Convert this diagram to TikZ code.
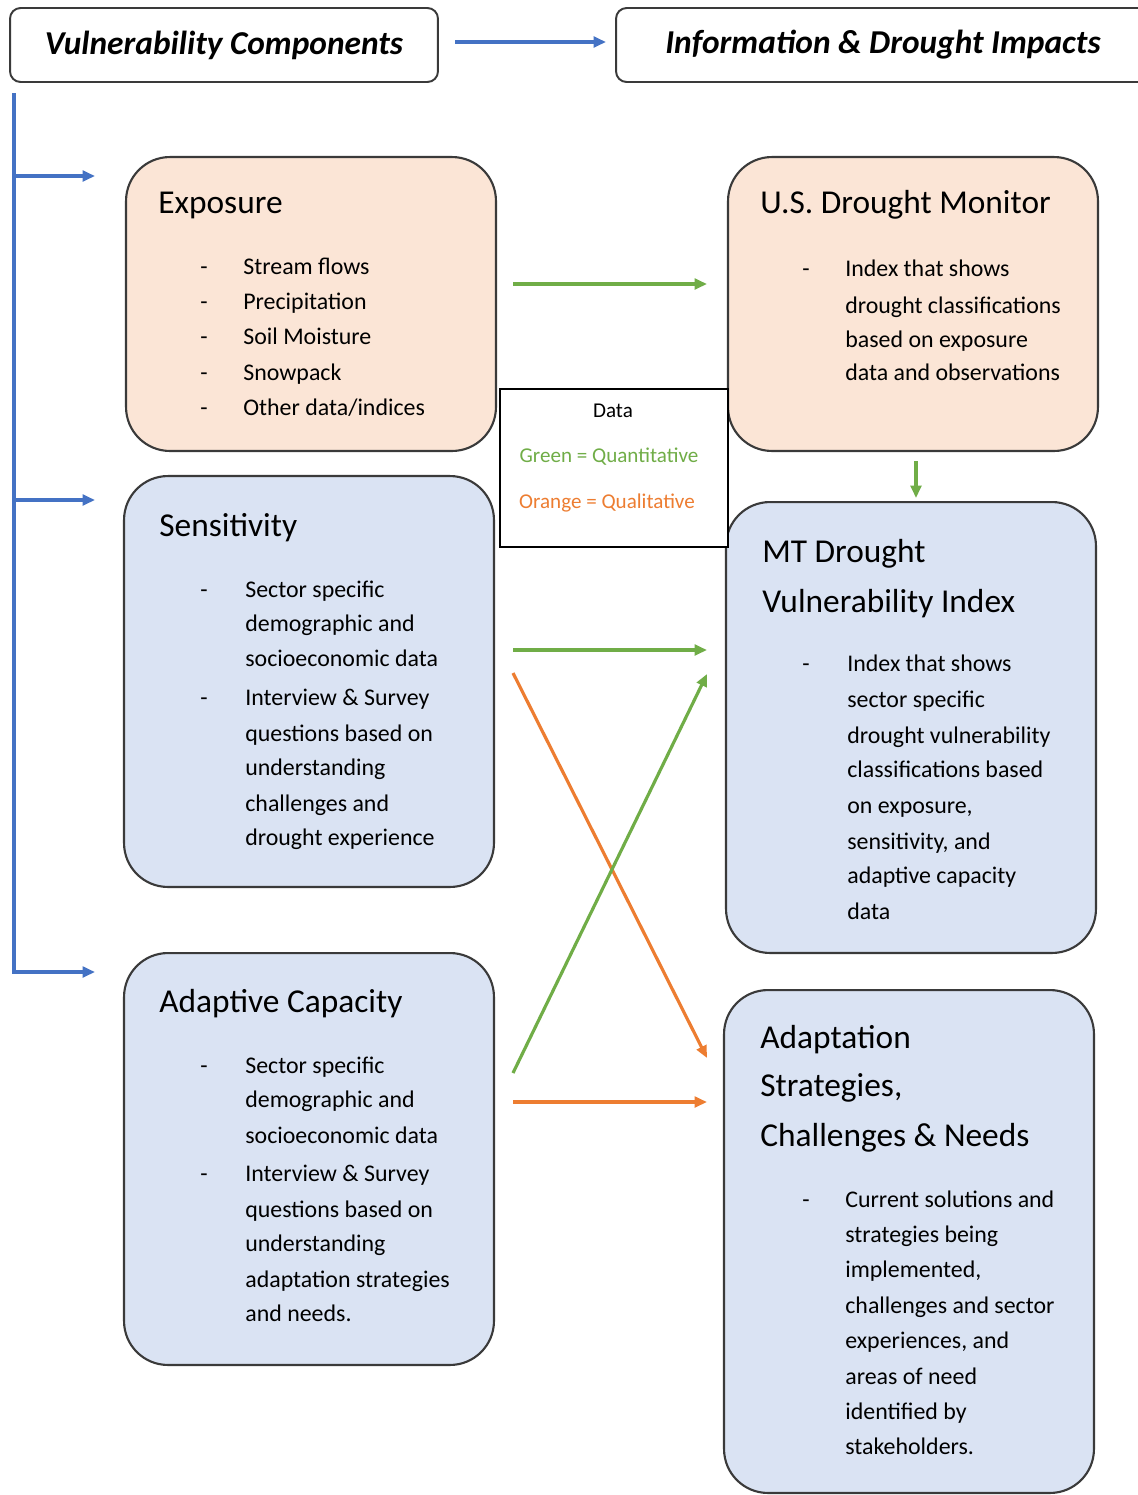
\documentclass[tikz,border=0pt]{standalone}
\usepackage{fontspec}
\setmainfont{Carlito}
\usetikzlibrary{arrows.meta}
\definecolor{peach}{HTML}{FBE5D6}
\definecolor{paleblue}{HTML}{DAE3F3}
\definecolor{linkblue}{HTML}{4472C4}
\definecolor{qgreen}{HTML}{70AD47}
\definecolor{qorange}{HTML}{ED7D31}
\definecolor{edgegray}{HTML}{3A3A3A}
\begin{document}
\begin{tikzpicture}[x=0.02cm, y=-0.02cm,
  headbox/.style={draw=edgegray, line width=1.1pt, rounded corners=6pt, minimum height=1.48cm, outer sep=0pt,
    font=\fontsize{19}{21}\selectfont\bfseries\itshape},
  card/.style={draw=edgegray, line width=1.2pt, rounded corners=25pt, minimum width=7.4cm, outer sep=0pt},
  title/.style={anchor=base west, inner sep=0pt, font=\fontsize{19}{21}\selectfont},
  body/.style={anchor=base west, inner sep=0pt, font=\fontsize{13.6}{16}\selectfont},
  legtext/.style={font=\fontsize{12}{14}\selectfont},
  bluelink/.style={draw=linkblue, line width=1.8pt, -{Triangle[length=7pt, width=6pt]}},
  quant/.style={draw=qgreen, line width=1.8pt, -{Triangle[length=7pt, width=6pt]}},
  qual/.style={draw=qorange, line width=1.8pt, -{Triangle[length=7pt, width=6pt]}}]
  \clip (0,0) rectangle (1138,1495);
  \fill[white] (0,0) rectangle (1138,1495);
  % headers
  \node[headbox, minimum width=8.56cm] (vulhead) at (224,45) {Vulnerability Components};
  \node[headbox, minimum width=10.68cm] (infohead) at (883,45) {Information \& Drought Impacts};
  \coordinate (hA) at (455,42); \coordinate (hB) at (606,42);
  \draw[bluelink] (hA) -- (hB);
  % left column
  \node[card, fill=peach, minimum height=5.88cm] (expo) at (311,304) {};
  \node[card, fill=paleblue, minimum height=8.22cm] (sens) at (309,681.5) {};
  \node[card, fill=paleblue, minimum height=8.24cm] (adcap) at (309,1159) {};
  % right column
  \node[card, fill=peach, minimum height=5.88cm] (usdm) at (913,304) {};
  \node[card, fill=paleblue, minimum height=9.02cm] (mtdvi) at (911,727.5) {};
  \node[card, fill=paleblue, minimum height=10.06cm] (adstrat) at (909,1241.5) {};
  % exposure
  \node[title] (expoT) at (158,213) {Exposure};
  \foreach \y/\t in {274/{Stream flows}, 309/{Precipitation}, 344/{Soil Moisture}, 380/{Snowpack}, 415/{Other data/indices}}{
    \node[body] at (200,\y) {-};
    \node[body] at (243,\y) {\t};
  }
  % sensitivity
  \node[title] (sensT) at (159,536) {Sensitivity};
  \node[body] at (200,597) {-};
  \node[body] at (200,705) {-};
  \foreach \y/\t in {597/Sector specific, 631/demographic and, 666/socioeconomic data, 705/Interview \& Survey,
    741/questions based on, 775/understanding, 811/challenges and, 845/drought experience}
    \node[body] at (245,\y) {\t};
  % adaptive capacity
  \node[title] (adcapT) at (159,1012) {Adaptive Capacity};
  \node[body] at (200,1073) {-};
  \node[body] at (200,1181) {-};
  \foreach \y/\t in {1073/Sector specific, 1107/demographic and, 1143/socioeconomic data, 1181/Interview \& Survey,
    1217/questions based on, 1251/understanding, 1287/adaptation strategies, 1321/and needs.}
    \node[body] at (245,\y) {\t};
  % drought monitor
  \node[title] (usdmT) at (760,213) {U.S. Drought Monitor};
  \node[body] at (802,276) {-};
  \foreach \y/\t in {276/Index that shows, 313/drought classifications, 347/based on exposure, 380/data and observations}
    \node[body] at (845,\y) {\t};
  % vulnerability index
  \node[title] (mtdviT) at (762,562) {MT Drought};
  \node[title] at (762,612) {Vulnerability Index};
  \node[body] at (802,671) {-};
  \foreach \y/\t in {671/Index that shows, 707/sector specific, 743/drought vulnerability, 777/classifications based,
    813/{on exposure,}, 849/{sensitivity, and}, 883/adaptive capacity, 919/data}
    \node[body] at (847,\y) {\t};
  % adaptation strategies
  \node[title] (adstratT) at (760,1048) {Adaptation};
  \node[title] at (760,1096) {Strategies,};
  \node[title] at (760,1146) {Challenges \& Needs};
  \node[body] at (802,1207) {-};
  \foreach \y/\t in {1207/Current solutions and, 1242/strategies being, 1277/{implemented,}, 1313/challenges and sector,
    1348/{experiences, and}, 1384/areas of need, 1419/identified by, 1454/stakeholders.}
    \node[body] at (845,\y) {\t};
  % legend
  \node[draw=black, fill=white, line width=0.9pt, minimum width=4.56cm, minimum height=3.16cm, outer sep=0pt] (legend) at (614,468) {};
  \node[legtext] (legT) at (613,411) {Data};
  \node[legtext, text=qgreen] (legG) at (609,457) {Green = Quantitative};
  \node[legtext, text=qorange] (legO) at (607,503) {Orange = Qualitative};
  % blue tree
  \coordinate (trunk) at (14,93);
  \coordinate (b1) at (14,176); \coordinate (b1e) at (95,176);
  \coordinate (b2) at (14,500); \coordinate (b2e) at (95,500);
  \coordinate (b3e) at (95,972);
  \draw[bluelink] (trunk) |- (b3e);
  \draw[bluelink] (b1) -- (b1e);
  \draw[bluelink] (b2) -- (b2e);
  % data links
  \coordinate (g1a) at (513,284); \coordinate (g1b) at (707,284);
  \coordinate (g2a) at (513,650); \coordinate (g2b) at (707,650);
  \coordinate (g3a) at (513,1073); \coordinate (g3b) at (707,674);
  \coordinate (g4a) at (916,461); \coordinate (g4b) at (916,498);
  \coordinate (o1a) at (513,673); \coordinate (o1b) at (707,1058);
  \coordinate (o2a) at (513,1102); \coordinate (o2b) at (707,1102);
  \draw[quant] (g1a) -- (g1b);
  \draw[quant] (g2a) -- (g2b);
  \draw[qual] (o1a) -- (o1b);
  \draw[quant] (g3a) -- (g3b);
  \draw[quant] (g4a) -- (g4b);
  \draw[qual] (o2a) -- (o2b);
\end{tikzpicture}
\end{document}
